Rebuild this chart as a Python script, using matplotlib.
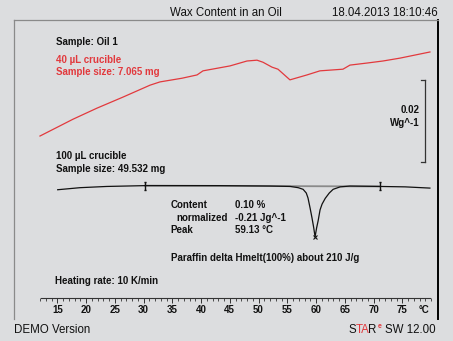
import matplotlib
matplotlib.use("Agg")
import matplotlib.pyplot as plt
from matplotlib.path import Path
import numpy as np

plt.rcParams['font.family'] = ['Liberation Sans', 'DejaVu Sans']

# ---- data (temperature in °C, heat flow in W/g) ----
red_T = [11.99, 17.73, 21.90, 26.43, 31.12, 32.86, 36.69, 39.30, 40.34, 45.03,
         47.99, 49.73, 50.77, 52.34, 53.38, 55.46, 58.42, 60.68, 64.68, 65.90,
         68.86, 71.64, 74.60, 79.81]
red_hf = [0.0400, 0.0441, 0.0468, 0.0495, 0.0524, 0.0532, 0.0541, 0.0549, 0.0559, 0.0571,
          0.0583, 0.0585, 0.0580, 0.0568, 0.0563, 0.0537, 0.0549, 0.0559, 0.0563, 0.0573,
          0.0578, 0.0583, 0.0590, 0.0605]

blk_T = [15.07, 18.95, 23.59, 30.25, 43.3, 52.0, 55.5, 56.9, 57.75, 58.3, 58.6, 58.97,
         59.3, 59.6, 59.83, 60.1, 60.36, 60.7, 61.05, 61.6, 62.3, 62.97, 64.2, 65.9,
         71.13, 75.5, 79.8]
blk_hf = [0.0269, 0.0274, 0.0277, 0.0279, 0.0279, 0.0278, 0.0277, 0.0274, 0.0270, 0.0261,
          0.0249, 0.0224, 0.0200, 0.0176, 0.0154, 0.0176, 0.0193, 0.0220, 0.0234, 0.0248,
          0.0261, 0.0270, 0.0276, 0.0278, 0.0277, 0.0276, 0.0273]

limits_T = [30.25, 71.13]
limits_hf = [0.0279, 0.0277]
peak_T = 59.83
peak_hf = 0.0154

scale_T = 78.95
scale_hf = [0.0337, 0.0537]

tick_vals = [15, 20, 25, 30, 35, 40, 45, 50, 55, 60, 65, 70, 75]

W, H = 453, 341
BG = '#dcdddf'
RED = '#e2393d'
TXT = '#111111'

fig = plt.figure(figsize=(W / 100, H / 100), dpi=100, facecolor=BG)
ax = fig.add_axes([14 / W, (H - 319) / H, (438 - 14) / W, (319 - 20) / H])
ax.set_facecolor(BG)
ax.set_xlim(7.47, 81.21)
ax.set_ylim(-0.00463, 0.0683)

for s in ['left', 'top']:
    ax.spines[s].set_color('#8a8a8a')
    ax.spines[s].set_linewidth(0.9)
ax.spines['right'].set_color('black')
ax.spines['right'].set_linewidth(1.4)
ax.spines['bottom'].set_position(('data', 0.00061))
ax.spines['bottom'].set_bounds(12.1, 79.8)
ax.spines['bottom'].set_color('#333333')
ax.spines['bottom'].set_linewidth(0.8)

ax.set_xticks(tick_vals)
ax.set_xticklabels([str(t) for t in tick_vals], fontsize=7.0, fontweight='bold', color=TXT)
ax.set_xticks(np.arange(12, 81, 1), minor=True)
ax.tick_params(axis='x', which='major', direction='out', length=3.5, width=0.7,
               color='#333333', pad=1.8)
ax.tick_params(axis='x', which='minor', direction='out', length=2.0, width=0.6,
               color='#333333')
ax.set_yticks([])

# curves
ax.plot(red_T, red_hf, color=RED, lw=0.9, solid_joinstyle='round')
ax.plot(limits_T, limits_hf, color='#8a8a8a', lw=1.3)
ax.plot(blk_T, blk_hf, color='#111111', lw=0.9, solid_joinstyle='round')

lim_marker = Path([(-0.35, 1), (0.35, 1), (0, 1), (0, -1), (-0.35, -1), (0.35, -1)],
                  [Path.MOVETO, Path.LINETO, Path.MOVETO, Path.LINETO, Path.MOVETO, Path.LINETO])
ax.plot(limits_T, limits_hf, ls='none', marker=lim_marker, ms=6, mew=1.0, mec='#111111')
ax.plot([peak_T], [peak_hf], ls='none', marker='x', ms=3.5, mew=0.8, mec='#111111')

# scale bar
ax.plot([scale_T, scale_T], scale_hf, color='#333333', lw=0.9)
for v in scale_hf:
    ax.plot([scale_T - 0.7, scale_T], [v, v], color='#333333', lw=0.9)


def ftext(x, y, s, **kw):
    kw.setdefault('fontsize', 7.0)
    kw.setdefault('fontweight', 'bold')
    kw.setdefault('color', TXT)
    return fig.text(x / W, 1 - y / H, s, va='baseline', **kw)


ftext(225.8, 15.7, 'Wax Content in an Oil', fontsize=8.3, fontweight='normal', ha='center')
ftext(437.7, 15.7, '18.04.2013 18:10:46', fontsize=8.3, fontweight='normal', ha='right')

ftext(56, 45, 'Sample: Oil 1')
ftext(56, 63.3, '40 µL crucible', color=RED)
ftext(56, 75.3, 'Sample size: 7.065 mg', color=RED)
ftext(420, 113.3, '0.02', ha='right')
ftext(420, 125.5, 'Wg^-1', ha='right')
ftext(56, 159.3, '100 µL crucible')
ftext(56, 172, 'Sample size: 49.532 mg')
ftext(170.7, 208.3, 'Content')
ftext(235.3, 208.3, '0.10 %')
ftext(176, 220.7, 'normalized')
ftext(235.3, 220.7, '-0.21 Jg^-1')
ftext(170.7, 232.7, 'Peak')
ftext(235.3, 232.7, '59.13 °C')
ftext(170.7, 260.7, 'Paraffin delta Hmelt(100%) about 210 J/g')
ftext(55, 284.3, 'Heating rate: 10 K/min')
ftext(424, 313.3, '°C', ha='center')
ftext(14, 332.7, 'DEMO Version', fontsize=8.3, fontweight='normal')

# STAR(e) SW 12.00 as separate pieces
ftext(348.5, 332.7, 'S', fontsize=8.3, fontweight='normal')
ftext(355.6, 332.7, 'TA', fontsize=8.3, fontweight='normal', color=RED)
ftext(368.3, 332.7, 'R', fontsize=8.3, fontweight='normal')
ftext(377.4, 328.0, 'e', fontsize=5.0, fontweight='bold', color=RED)
ftext(436.0, 332.7, 'SW 12.00', fontsize=8.3, fontweight='normal', ha='right')

fig.savefig('out.png', dpi=100, facecolor=BG)
